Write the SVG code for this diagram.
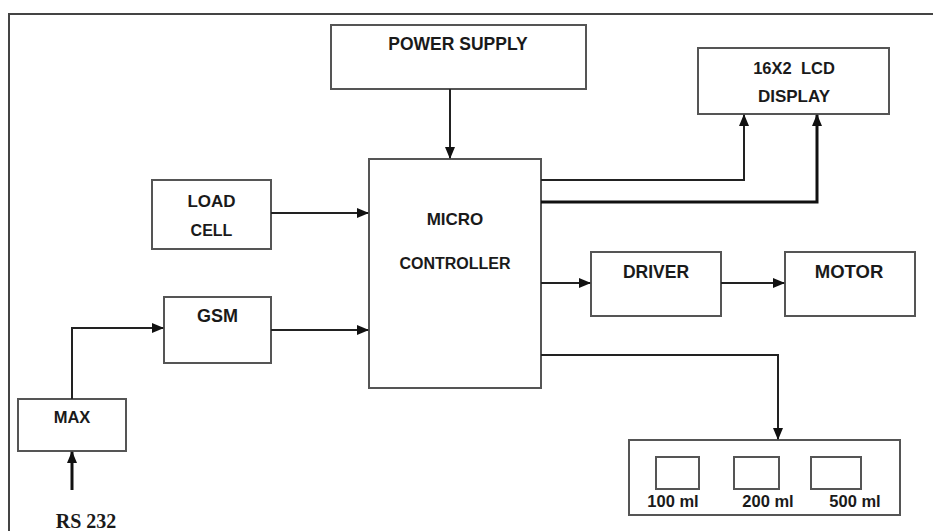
<svg xmlns="http://www.w3.org/2000/svg" width="933" height="531" viewBox="0 0 933 531">
  <style>
    .box { fill: #ffffff; stroke: #555555; stroke-width: 2; }
    .lbl { font-family: "Liberation Sans", Arial, sans-serif; font-weight: bold; fill: #1a1a1a; text-anchor: middle; }
    .ln { fill: none; stroke: #222222; stroke-width: 2; }
    .lnb { fill: none; stroke: #111111; stroke-width: 3; }
    .frame { fill: none; stroke: #444444; stroke-width: 2; }
  </style>
  <defs>
    <marker id="ah" markerUnits="userSpaceOnUse" markerWidth="12" markerHeight="10" refX="11" refY="5" orient="auto">
      <path d="M0,0 L12,5 L0,10 Z" fill="#111111"/>
    </marker>
  </defs>
  <rect width="933" height="531" fill="#ffffff"/>
  <path class="frame" d="M9,531 V14 H933"/>

  <g id="power-supply">
    <rect class="box" x="331" y="25" width="255" height="64"/>
    <text class="lbl" x="458" y="50" font-size="17.5">POWER SUPPLY</text>
  </g>
  <g id="lcd-display">
    <rect class="box" x="698" y="48" width="191" height="66"/>
    <text class="lbl" x="794" y="74" font-size="16.5" xml:space="preserve">16X2  LCD</text>
    <text class="lbl" x="794" y="102" font-size="17">DISPLAY</text>
  </g>
  <g id="microcontroller">
    <rect class="box" x="369" y="159" width="172" height="229"/>
    <text class="lbl" x="455" y="225" font-size="17">MICRO</text>
    <text class="lbl" x="455" y="269" font-size="16">CONTROLLER</text>
  </g>
  <g id="load-cell">
    <rect class="box" x="152" y="180" width="119" height="69"/>
    <text class="lbl" x="211.5" y="207" font-size="17">LOAD</text>
    <text class="lbl" x="211.5" y="236" font-size="16">CELL</text>
  </g>
  <g id="gsm">
    <rect class="box" x="164" y="297" width="107" height="66"/>
    <text class="lbl" x="217.5" y="322" font-size="18">GSM</text>
  </g>
  <g id="driver">
    <rect class="box" x="591" y="252" width="130" height="64"/>
    <text class="lbl" x="656" y="278" font-size="17.5">DRIVER</text>
  </g>
  <g id="motor">
    <rect class="box" x="785" y="252" width="130" height="64"/>
    <text class="lbl" x="849" y="278" font-size="18.5">MOTOR</text>
  </g>
  <g id="max">
    <rect class="box" x="18" y="399" width="108" height="52"/>
    <text class="lbl" x="72" y="423" font-size="16.5">MAX</text>
  </g>
  <g id="containers">
    <rect class="box" x="629" y="440" width="271" height="75"/>
    <rect class="box" x="656" y="457" width="43" height="32"/>
    <rect class="box" x="734" y="457" width="45" height="32"/>
    <rect class="box" x="811" y="457" width="50" height="32"/>
    <text class="lbl" x="673" y="507" font-size="16.5">100 ml</text>
    <text class="lbl" x="768" y="507" font-size="16.5">200 ml</text>
    <text class="lbl" x="855" y="507" font-size="16.5">500 ml</text>
  </g>
  <g id="rs232">
    <text x="86" y="528" font-family="Liberation Serif, 'Times New Roman', serif" font-weight="bold" font-size="20" fill="#1a1a1a" text-anchor="middle">RS 232</text>
  </g>

  <g id="connectors">
    <path class="ln" d="M450,89 V158" marker-end="url(#ah)"/>
    <path class="ln" d="M541,180 H744 V115" marker-end="url(#ah)"/>
    <path class="lnb" d="M541,202 H817 V115" marker-end="url(#ah)"/>
    <path class="ln" d="M271,213 H368" marker-end="url(#ah)"/>
    <path class="ln" d="M271,330 H368" marker-end="url(#ah)"/>
    <path class="ln" d="M72,399 V328 H163" marker-end="url(#ah)"/>
    <path class="lnb" d="M72,490 V452" marker-end="url(#ah)"/>
    <path class="ln" d="M541,283 H590" marker-end="url(#ah)"/>
    <path class="ln" d="M721,283 H784" marker-end="url(#ah)"/>
    <path class="ln" d="M541,355 H778 V439" marker-end="url(#ah)"/>
  </g>
</svg>
